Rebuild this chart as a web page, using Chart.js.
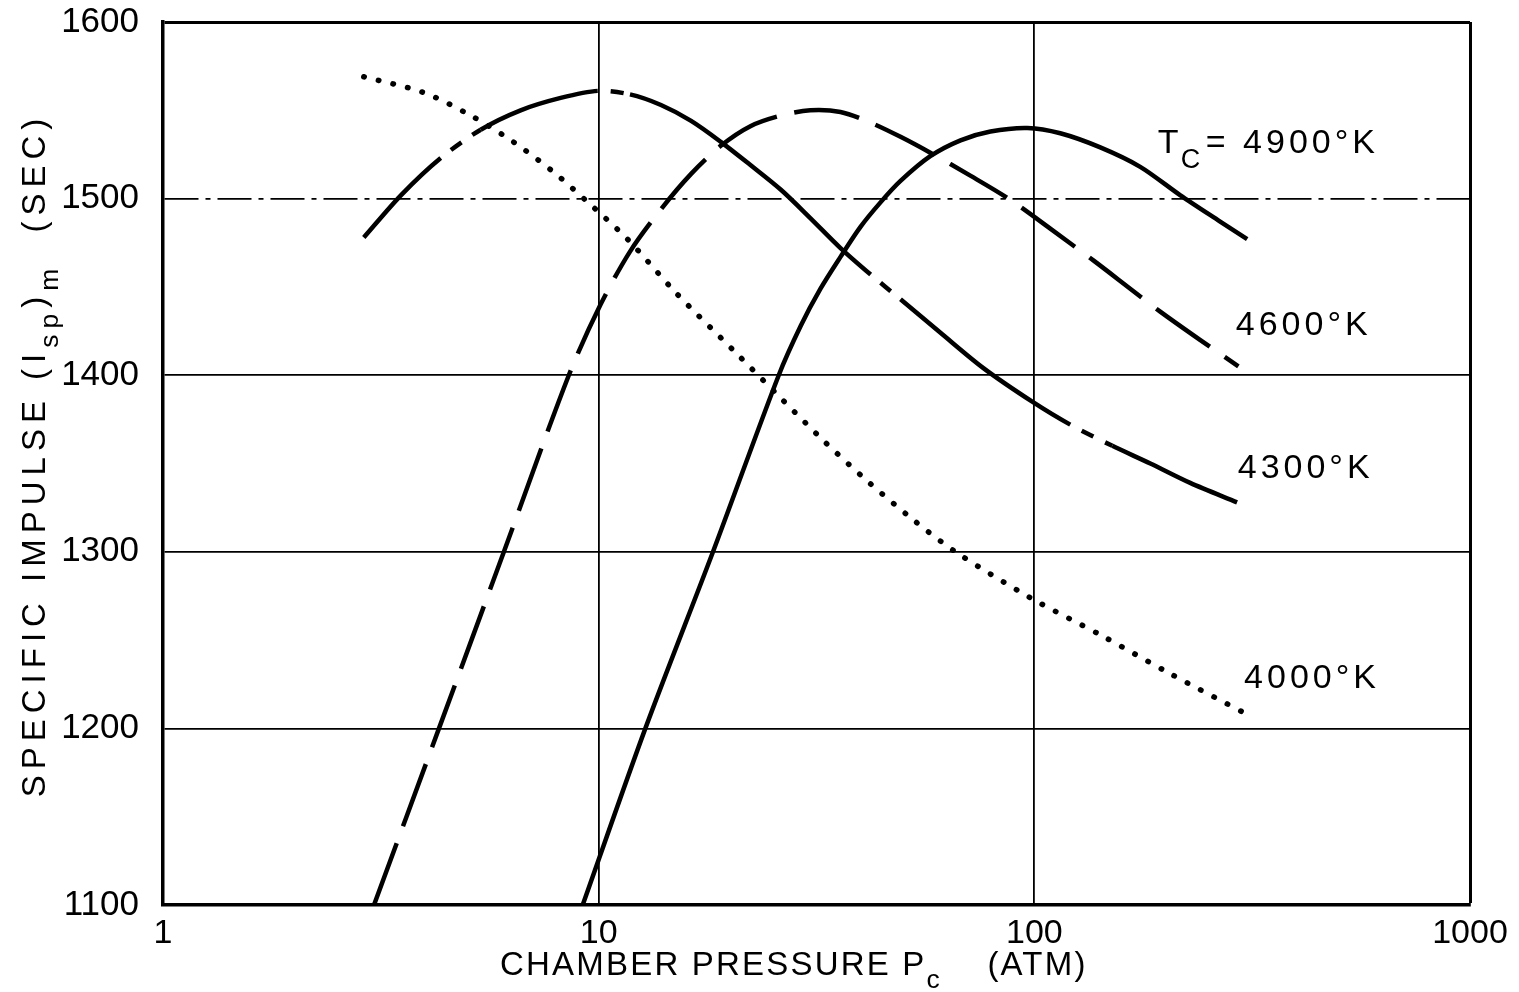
<!DOCTYPE html>
<html>
<head>
<meta charset="utf-8">
<title>Specific impulse vs chamber pressure</title>
<script src="https://cdn.jsdelivr.net/npm/chart.js@4.4.0/dist/chart.umd.min.js"></script>
<style>
  html, body { margin: 0; padding: 0; background: #fff; }
</style>
</head>
<body>
<canvas id="chart_isp" width="1519" height="992"></canvas>
<script>
// values (chamber pressure in atm, specific impulse in sec)
var p4900 = [9.19, 12.8, 18.3, 25.9, 29.1, 32.3, 35.9, 39.9, 44.4, 49.3, 57.7, 67.7, 79.3, 96.4, 114.7, 141.7, 175, 216, 267, 308];
var isp4900 = [1100, 1200, 1300, 1400, 1428, 1449, 1467, 1484, 1498, 1510, 1524, 1533, 1538, 1540, 1537, 1529, 1518, 1502, 1487, 1477];

var p4600 = [3.05, 4.30, 6.06, 8.54, 10.1, 11.8, 13.9, 16.3, 19.1, 22.3, 26.2, 30.6, 35.9, 42.1, 49.3, 57.7, 71.3, 87.2, 108.8, 136.6, 166, 194.5, 240, 294];
var isp4600 = [1100, 1200, 1300, 1400, 1440, 1470, 1494, 1514, 1530, 1541, 1547, 1550, 1549, 1543, 1535, 1526, 1513, 1500, 1483, 1465, 1449, 1436, 1420, 1405];

var p4300 = [2.89, 3.52, 4.34, 5.36, 6.62, 8.18, 9.95, 11.8, 13.9, 16.3, 19.1, 22.3, 26.2, 30.6, 35.9, 42.1, 49.3, 60.9, 76.4, 98.9, 120.9, 151, 184.6, 227.9, 292];
var isp4300 = [1478, 1502, 1523, 1539, 1550, 1557, 1561, 1559, 1553, 1544, 1532, 1519, 1505, 1489, 1472, 1457, 1443, 1424, 1404, 1385, 1372, 1360, 1350, 1339, 1328];

var p4000 = [2.89, 3.97, 5.09, 6.38, 7.88, 9.44, 11.65, 15.0, 20.4, 26.2, 32.8, 41.4, 52.8, 65.9, 97.9, 141.7, 205, 313];
var isp4000 = [1569, 1560, 1547, 1532, 1515, 1498, 1477, 1447, 1414, 1387, 1363, 1340, 1318, 1300, 1274, 1253, 1231, 1207];

var xTickValues = [1, 10, 100, 1000];
var yMin = 1100, yMax = 1600, yStep = 100;

function toPoints(xs, ys) {
  var pts = [];
  for (var i = 0; i < xs.length; i++) {
    pts.push({x: xs[i], y: ys[i]});
  }
  return pts;
}

var FONT = '"Liberation Sans", Arial, sans-serif';

// draw a string made of normal and subscript pieces; x is the centre or, with left=true, the start
function drawRich(ctx, parts, x, y, size, spacing, left) {
  ctx.letterSpacing = spacing + 'px';
  var total = 0;
  parts.forEach(function(p) {
    ctx.font = (p.sub ? size * 0.8 : size) + 'px ' + FONT;
    p.w = ctx.measureText(p.t).width;
    total += p.w;
  });
  var cx = left ? x : x - total / 2;
  parts.forEach(function(p) {
    ctx.font = (p.sub ? size * 0.8 : size) + 'px ' + FONT;
    ctx.fillText(p.t, cx, y + (p.sub ? size * 0.45 : 0));
    cx += p.w;
  });
}

var textPlugin = {
  id: 'textPlugin',
  afterDraw: function(chart) {
    var ctx = chart.ctx;
    var xs = chart.scales.x, ys = chart.scales.y;
    ctx.save();
    ctx.fillStyle = '#000';
    ctx.textBaseline = 'middle';
    ctx.textAlign = 'left';

    // x axis title
    drawRich(ctx, [
      {t: 'CHAMBER PRESSURE P'},
      {t: 'c', sub: true},
      {t: '    (ATM)'}
    ], 500, 966, 33, 2.2, true);

    // y axis title, rotated
    ctx.save();
    ctx.translate(36, 455);
    ctx.rotate(-Math.PI / 2);
    drawRich(ctx, [
      {t: 'SPECIFIC IMPULSE (I'},
      {t: 'sp', sub: true},
      {t: ')'},
      {t: 'm', sub: true},
      {t: '  (SEC)'}
    ], 0, 0, 33, 6);
    ctx.restore();

    // curve labels
    ctx.letterSpacing = '4px';
    ctx.font = '34px ' + FONT;
    var lx = xs.getPixelForValue(192), ly = ys.getPixelForValue(1531);
    ctx.fillText('T', lx, ly);
    ctx.font = '27px ' + FONT;
    ctx.fillText('C', lx + 23, ly + 17);
    ctx.font = '34px ' + FONT;
    ctx.fillText('= 4900\u00B0K', lx + 48, ly);
    ctx.fillText('4600\u00B0K', xs.getPixelForValue(290), ys.getPixelForValue(1428));
    ctx.fillText('4300\u00B0K', xs.getPixelForValue(293), ys.getPixelForValue(1347));
    ctx.fillText('4000\u00B0K', xs.getPixelForValue(303), ys.getPixelForValue(1228));
    ctx.restore();
  }
};

// the 4300 curve is solid with a few short breaks
var breaks4300 = [4.34, 9.95, 42.1, 120.9];

var ctx_isp = document.getElementById('chart_isp').getContext('2d');
var chart_isp = new Chart(ctx_isp, {
  type: 'line',
  data: {
    datasets: [
      {
        label: '4900\u00B0K',
        data: toPoints(p4900, isp4900),
        borderColor: '#000',
        borderWidth: 4.5
      },
      {
        label: '4600\u00B0K',
        data: toPoints(p4600, isp4600),
        borderColor: '#000',
        borderWidth: 4.5,
        borderDash: [66, 18]
      },
      {
        label: '4300\u00B0K',
        data: toPoints(p4300, isp4300),
        borderColor: '#000',
        borderWidth: 4.5,
        segment: {
          borderDash: function(c) {
            return breaks4300.indexOf(c.p0.parsed.x) >= 0 ? [13, 13] : undefined;
          },
          borderDashOffset: function(c) {
            return breaks4300.indexOf(c.p0.parsed.x) >= 0 ? 13 : undefined;
          }
        }
      },
      {
        label: '4000\u00B0K',
        data: toPoints(p4000, isp4000),
        borderColor: '#000',
        borderWidth: 5.5,
        borderDash: [0.5, 14.5],
        borderCapStyle: 'round'
      }
    ]
  },
  options: {
    responsive: false,
    animation: false,
    elements: {
      point: { radius: 0, hoverRadius: 0 },
      line: { tension: 0.3 }
    },
    layout: { padding: { top: 22, right: 49, left: 0, bottom: 0 } },
    plugins: {
      legend: { display: false },
      tooltip: { enabled: false },
      title: { display: false }
    },
    scales: {
      x: {
        type: 'logarithmic',
        min: 1,
        max: 1000,
        afterBuildTicks: function(s) {
          s.ticks = xTickValues.map(function(v) { return {value: v}; });
        },
        afterFit: function(s) {
          s.height = 87;
          s.paddingLeft = 0;
          s.paddingRight = 0;
        },
        ticks: {
          autoSkip: false,
          maxRotation: 0,
          padding: 8,
          color: '#000',
          font: { family: FONT, size: 34 },
          callback: function(v) { return String(v); }
        },
        grid: {
          color: '#000',
          drawTicks: false,
          lineWidth: function(c) { return (c.tick && c.tick.value === 1000) ? 3 : 1.8; }
        },
        border: { color: '#000', width: 3.5 }
      },
      y: {
        min: yMin,
        max: yMax,
        afterFit: function(s) {
          s.width = 163;
          s.paddingTop = 0;
          s.paddingBottom = 0;
        },
        ticks: {
          stepSize: yStep,
          padding: 24,
          color: '#000',
          font: { family: FONT, size: 35 },
          callback: function(v) { return String(v); }
        },
        grid: {
          color: '#000',
          drawTicks: false,
          lineWidth: function(c) { return (c.tick && c.tick.value === yMax) ? 3 : 1.8; }
        },
        border: {
          color: '#000',
          width: 3.5,
          // the 1500 line is dash-dot in the original
          dash: function(c) { return (c.tick && c.tick.value === 1500) ? [34, 7, 5, 7] : []; }
        }
      }
    }
  },
  plugins: [textPlugin]
});
</script>
</body>
</html>
